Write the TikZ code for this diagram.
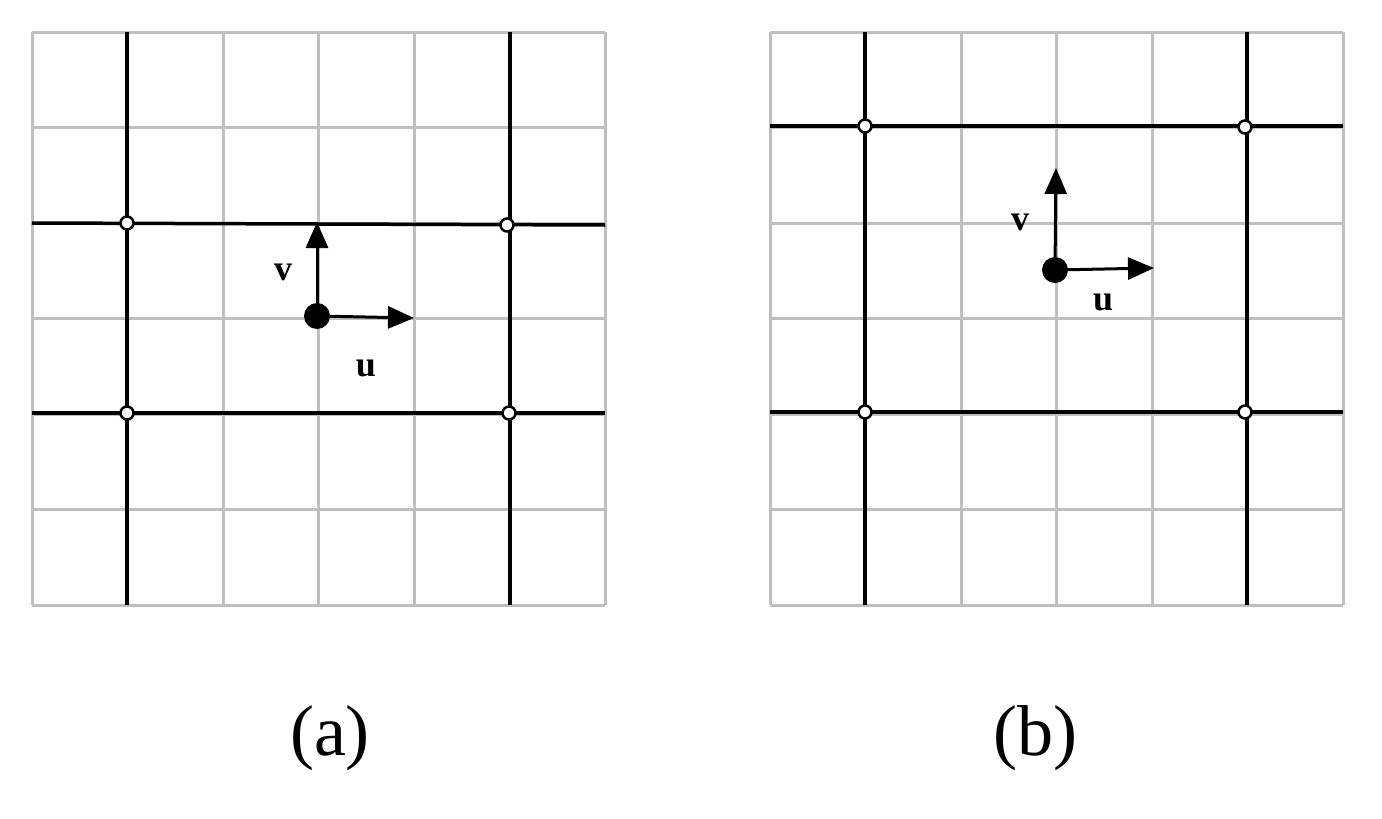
\documentclass[tikz,border=0pt]{standalone}
\usepackage{fontspec}
\setmainfont{Liberation Serif}
\usetikzlibrary{arrows.meta}
\begin{document}
\begin{tikzpicture}[x=1pt,y=-1pt,
  gridl/.style={draw=black!25,line width=3pt},
  blk/.style={draw=black,line width=3.5pt},
  knot/.style={circle,draw=black,fill=white,line width=2.5pt,inner sep=0pt,minimum size=13pt},
  pt/.style={circle,fill=black,inner sep=0pt,minimum size=26pt},
  vec/.style={line width=3pt,-{Triangle[length=26pt,width=22pt]}},
  lbl/.style={font=\fontsize{36}{40}\selectfont\bfseries},
  captext/.style={font=\fontsize{72}{80}\selectfont}]
\useasboundingbox (0,0) rectangle (1382,819);
% left
\foreach \i in {0,...,6}{
  \draw[gridl] (32+95.5*\i,32) -- (32+95.5*\i,605);
  \draw[gridl] (32,32+95.5*\i) -- (605,32+95.5*\i);}
\draw[blk] (127,32) -- (127,605);
\draw[blk] (510,32) -- (510,605);
\draw[blk] (32,223) -- (605,225);
\draw[blk] (32,413) -- (605,413);
\foreach \n/\x/\y in {a1/127/223,a2/507/225,a3/127/413,a4/509/413}
  \node[knot] (\n) at (\x,\y) {};
\node[pt] (pa) at (317,316) {};
\coordinate (va) at (317,222);
\coordinate (ua) at (414,318);
\draw[vec] (pa.center) -- (va);
\draw[vec] (pa.center) -- (ua);
\node[lbl] (lva) at (283,272) {v};
\node[lbl] (lua) at (366,368) {u};
\node[captext] (ca) at (330,738) {(a)};
% right
\foreach \i in {0,...,6}{
  \draw[gridl] (770+95.5*\i,32) -- (770+95.5*\i,605);
  \draw[gridl] (770,32+95.5*\i) -- (1343,32+95.5*\i);}
\draw[blk] (865,32) -- (865,605);
\draw[blk] (1247,32) -- (1247,605);
\draw[blk] (770,126) -- (1343,126);
\draw[blk] (770,412) -- (1343,412);
\foreach \n/\x/\y in {b1/865/126,b2/1245/127,b3/865/412,b4/1245/412}
  \node[knot] (\n) at (\x,\y) {};
\node[pt] (pb) at (1055,270) {};
\coordinate (vb) at (1056,168);
\coordinate (ub) at (1154,268);
\draw[vec] (pb.center) -- (vb);
\draw[vec] (pb.center) -- (ub);
\node[lbl] (lvb) at (1020,222) {v};
\node[lbl] (lub) at (1103,302) {u};
\node[captext] (cb) at (1035,738) {(b)};
\end{tikzpicture}
\end{document}
